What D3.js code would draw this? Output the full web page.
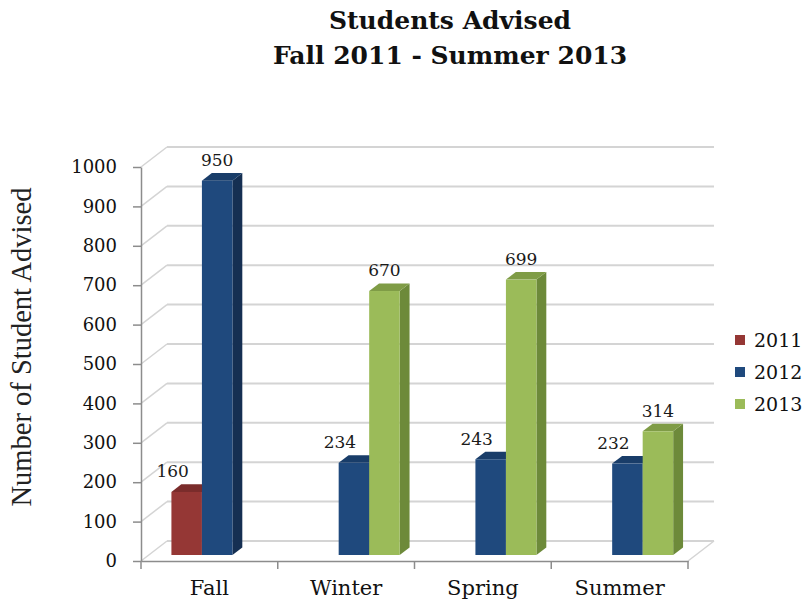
<!DOCTYPE html>
<html>
<head>
<meta charset="utf-8">
<script src="https://cdn.jsdelivr.net/npm/d3@7"></script>
<style>
  body { margin: 0; background: #fff; }
  svg { display: block; }
  .serif { font-family: "DejaVu Serif", serif; }
</style>
</head>
<body>
<svg></svg>
<script>
let categories = ['Fall', 'Winter', 'Spring', 'Summer'];
let series = ['2011', '2012', '2013'];
// null = no bar
let values2011 = [160, null, null, null];
let values2012 = [950, 234, 243, 232];
let values2013 = [null, 670, 699, 314];
let yTicks = [0, 100, 200, 300, 400, 500, 600, 700, 800, 900, 1000];

let width = 812;
let height = 609;

let front = { left: 141, right: 688, top: 167, bottom: 561 };
let depthX = 26;
let depthY = -20;
let barFront = 0.3;   // bar front face, fraction of plot depth
let barBack = 0.68;

let colors = {
  '2011': { front: '#953735', top: '#7a2c2b', side: '#6a2524' },
  '2012': { front: '#1f497d', top: '#193d69', side: '#152f52' },
  '2013': { front: '#9bbb59', top: '#7f9c46', side: '#6d8a3a' }
};

let svg = d3.select('svg').attr('width', width).attr('height', height);

let yScale = d3.scaleLinear().domain([0, 1000]).range([front.bottom, front.top]);
let xScale = d3.scaleBand().domain(categories).range([front.left, front.right]);
let bw = xScale.bandwidth();
let seriesScale = d3.scaleBand().domain(series).range([bw * 0.1654, bw * 0.8346]);

let rows = [values2011, values2012, values2013];

// walls: side wall diagonals + back wall lines
let grid = svg.append('g');
yTicks.forEach(v => {
  let y = yScale(v);
  grid.append('line')
    .attr('x1', front.left).attr('y1', y)
    .attr('x2', front.left + depthX).attr('y2', y + depthY)
    .attr('stroke', '#d4d4d4').attr('stroke-width', 1.5);
  grid.append('line')
    .attr('x1', front.left + depthX).attr('y1', y + depthY)
    .attr('x2', front.right + depthX).attr('y2', y + depthY)
    .attr('stroke', '#d4d4d4').attr('stroke-width', 2);
});
// floor right edge
grid.append('line')
  .attr('x1', front.right).attr('y1', front.bottom)
  .attr('x2', front.right + depthX).attr('y2', front.bottom + depthY)
  .attr('stroke', '#d4d4d4').attr('stroke-width', 1.5);

// bars
let bars = [];
categories.forEach((c, ci) => {
  series.forEach((s, si) => {
    let v = rows[si][ci];
    if (v == null) return;
    bars.push({ c: c, s: s, v: v, ci: ci, si: si });
  });
});

let fx = barFront * depthX, fy = barFront * depthY;
let bx = barBack * depthX, by = barBack * depthY;

let barG = svg.append('g');
bars.forEach(b => {
  let x0 = xScale(b.c) + seriesScale(b.s) + fx;
  let x1 = x0 + seriesScale.bandwidth();
  let yb = yScale(0) + fy;
  let yt = yScale(b.v) + fy;
  let dx = bx - fx, dy = by - fy;
  let col = colors[b.s];
  let g = barG.append('g');
  g.append('path')
    .attr('d', `M${x1},${yt}L${x1 + dx},${yt + dy}L${x1 + dx},${yb + dy}L${x1},${yb}Z`)
    .attr('fill', col.side);
  g.append('path')
    .attr('d', `M${x0},${yt}L${x0 + dx},${yt + dy}L${x1 + dx},${yt + dy}L${x1},${yt}Z`)
    .attr('fill', col.top);
  g.append('rect')
    .attr('x', x0).attr('y', yt)
    .attr('width', x1 - x0).attr('height', yb - yt)
    .attr('fill', col.front);

  // label: shift left if the next bar in the group is taller
  let next = bars.find(o => o.ci === b.ci && o.si === b.si + 1);
  let shift = next && next.v > b.v ? -14 : 0;
  svg.append('text')
    .attr('class', 'serif')
    .attr('x', (x0 + x1) / 2 + shift)
    .attr('y', yt + dy - 7)
    .attr('text-anchor', 'middle')
    .attr('font-size', 17)
    .attr('fill', '#1a1a1a')
    .text(b.v);
});

// y axis
let yAxis = d3.axisLeft(yScale).tickValues(yTicks).tickFormat(d3.format('d'))
  .tickSize(8).tickPadding(16).tickSizeOuter(0);
let yG = svg.append('g')
  .attr('transform', `translate(${front.left},0)`)
  .call(yAxis);
yG.select('.domain').attr('stroke', '#8c8c8c').attr('stroke-width', 1.5);
yG.selectAll('.tick line').attr('stroke', '#8c8c8c').attr('stroke-width', 1.5);
yG.selectAll('.tick text')
  .attr('font-family', '"DejaVu Serif", serif')
  .attr('font-size', 18)
  .attr('fill', '#111');

// x axis
let xAxis = d3.axisBottom(xScale).tickSize(0).tickPadding(19);
let xG = svg.append('g')
  .attr('transform', `translate(0,${front.bottom})`)
  .call(xAxis);
xG.select('.domain').attr('stroke', '#8c8c8c').attr('stroke-width', 1.5);
xG.selectAll('.tick text')
  .attr('font-family', '"DejaVu Serif", serif')
  .attr('font-size', 21)
  .attr('fill', '#111');
let edges = categories.map(c => xScale(c)).concat([front.right]);
xG.selectAll('.edge').data(edges).enter().append('line')
  .attr('x1', d => d).attr('x2', d => d)
  .attr('y1', 0).attr('y2', 8)
  .attr('stroke', '#8c8c8c').attr('stroke-width', 1.5);

// y title
svg.append('text')
  .attr('transform', 'translate(31,347) rotate(-90)')
  .attr('text-anchor', 'middle')
  .attr('font-family', '"Liberation Serif", serif')
  .attr('font-size', 28.5)
  .attr('fill', '#222')
  .text('Number of Student Advised');

// title
let title = svg.append('text')
  .attr('class', 'serif')
  .attr('text-anchor', 'middle')
  .attr('font-weight', 'bold')
  .attr('font-size', 25)
  .attr('fill', '#111');
title.append('tspan').attr('x', 450).attr('y', 29).text('Students Advised');
title.append('tspan').attr('x', 450).attr('y', 64).text('Fall 2011 - Summer 2013');

// legend
let legend = svg.append('g').attr('transform', 'translate(735,340)');
series.forEach((s, i) => {
  let g = legend.append('g').attr('transform', `translate(0,${i * 32})`);
  g.append('rect').attr('x', 0).attr('y', -5).attr('width', 10).attr('height', 10)
    .attr('fill', colors[s].front);
  g.append('text').attr('class', 'serif').attr('x', 19).attr('y', 0)
    .attr('dominant-baseline', 'central')
    .attr('font-size', 19).attr('fill', '#111').text(s);
});
</script>
</body>
</html>
